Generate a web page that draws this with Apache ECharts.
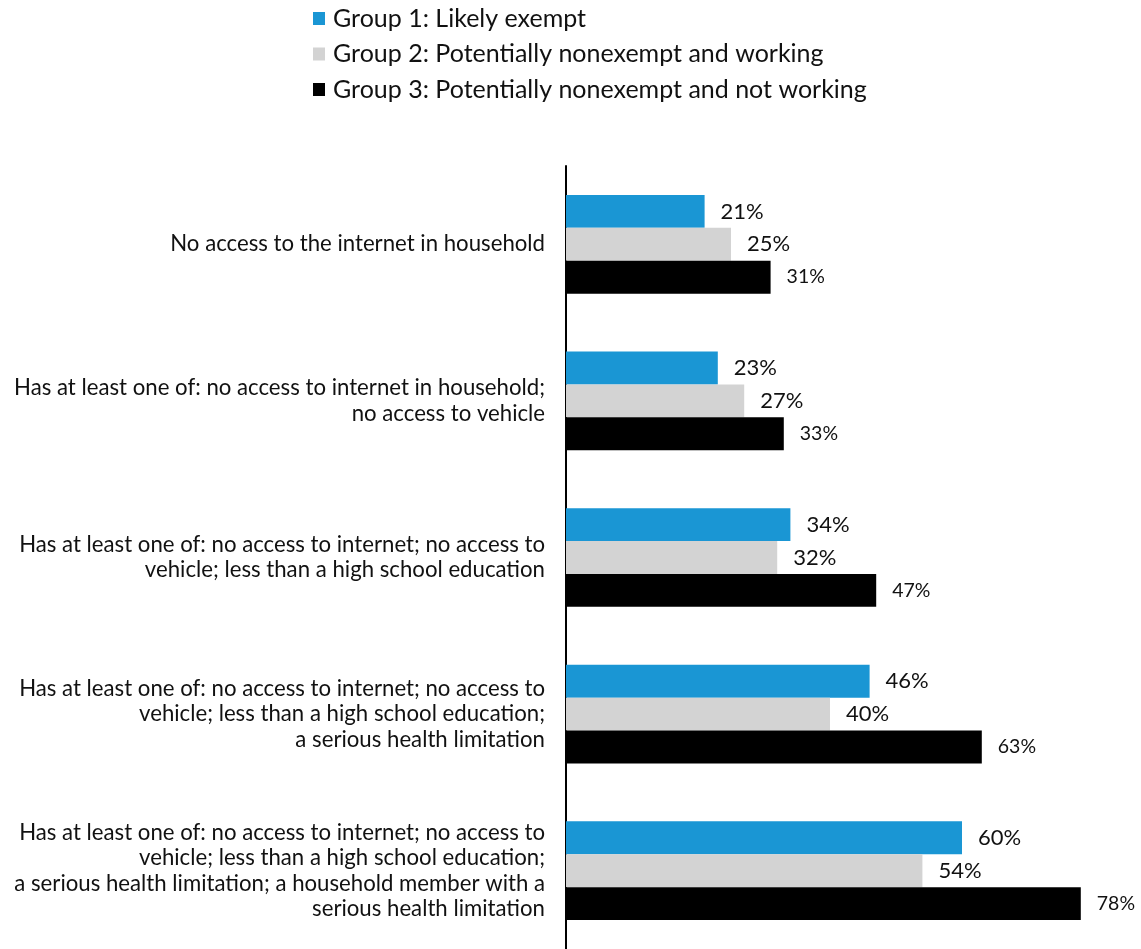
<!DOCTYPE html>
<html><head><meta charset="utf-8">
<script src="https://cdn.jsdelivr.net/npm/echarts@6/dist/echarts.min.js"></script>
<style>html,body{margin:0;padding:0;background:#fff}#c{width:1141px;height:949px}</style>
</head><body><div id="c"></div>
<script>
const categories = [
  "No access to the internet in household",
  "Has at least one of: no access to internet in household;\nno access to vehicle",
  "Has at least one of: no access to internet; no access to\nvehicle; less than a high school education",
  "Has at least one of: no access to internet; no access to\nvehicle; less than a high school education;\na serious health limitation",
  "Has at least one of: no access to internet; no access to\nvehicle; less than a high school education;\na serious health limitation; a household member with a\nserious health limitation"
];
const seriesNames = ["Group 1: Likely exempt", "Group 2: Potentially nonexempt and working", "Group 3: Potentially nonexempt and not working"];
const group1 = [21, 23, 34, 46, 60];
const group2 = [25, 27, 32, 40, 54];
const group3 = [31, 33, 47, 63, 78];

const colors = ["#1a96d4", "#d3d3d3", "#000000"];
const FONT = "Lato";
const chart = echarts.init(document.getElementById('c'));
function mk(name, data, color, labelSize) {
  return {
    name: name, type: 'bar', data: data, barGap: '0%', barCategoryGap: '37%',
    itemStyle: { color: color },
    label: { show: true, position: 'right', distance: 16, formatter: '{c}%', color: '#111', fontFamily: FONT, fontSize: labelSize }
  };
}
chart.setOption({
  animation: false,
  textStyle: { fontFamily: FONT },
  legend: {
    orient: 'vertical', left: 308, top: 1, itemWidth: 12, itemHeight: 13, itemGap: 10.5,
    icon: 'rect',
    textStyle: { fontFamily: FONT, fontSize: 25, lineHeight: 25, color: '#111', padding: [0, 0, 0, 3] },
    data: seriesNames
  },
  grid: { left: 566, right: 47, top: 166, bottom: -7, containLabel: false },
  xAxis: { type: 'value', min: 0, max: 80, show: false },
  yAxis: {
    type: 'category', data: categories, inverse: true,
    axisLine: { show: true, lineStyle: { color: '#000', width: 2 } },
    axisTick: { show: false },
    axisLabel: { margin: 21, fontFamily: FONT, fontSize: 22.2, color: '#111', lineHeight: 25.5, align: 'right' }
  },
  series: [
    mk(seriesNames[0], group1, colors[0], 22),
    mk(seriesNames[1], group2, colors[1], 22),
    mk(seriesNames[2], group3, colors[2], 19.5)
  ]
});
</script></body></html>
